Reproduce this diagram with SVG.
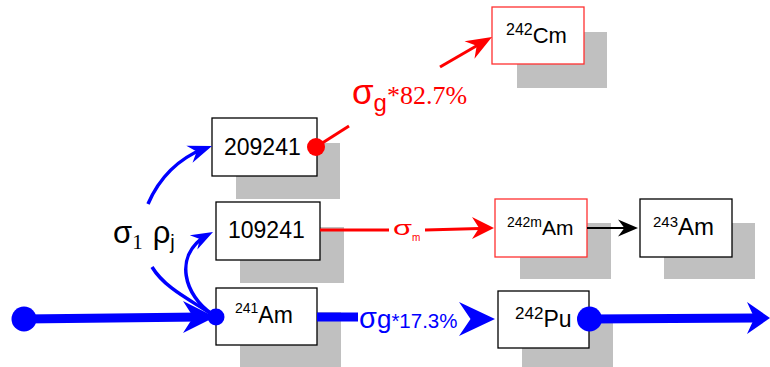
<svg xmlns="http://www.w3.org/2000/svg" xmlns:xlink="http://www.w3.org/1999/xlink" width="770" height="367" viewBox="0 0 770 367">
<style>
.sh{fill:#c0c0c0}
.bx{fill:#fff;stroke:#000;stroke-width:1.3}
.bxr{fill:#fff;stroke:#ff3030;stroke-width:1.3}
.lb{font-family:"Liberation Sans",Arial,sans-serif;fill:#000}
.blu{fill:#0000ff}
.red{fill:#ff0000}
.bl{stroke:#0000ff;fill:none}
.rl{stroke:#ff0000;fill:none;stroke-width:3}
</style>
<defs>
<path id="ah" d="M0,0 L-1,-0.5 L-0.68,0 L-1,0.5 Z"/>
</defs>
<rect width="770" height="367" fill="#fff"/>
<g id="n209241">
<rect class="sh" x="236" y="143" width="104" height="56"/>
<rect class="bx" x="212" y="118" width="105" height="58"/>
<text class="lb" x="224" y="155" font-size="23">209241</text>
</g>
<g id="n109241">
<rect class="sh" x="240" y="227" width="104" height="56"/>
<rect class="bx" x="216" y="202" width="104" height="58"/>
<text class="lb" x="228" y="238" font-size="23">109241</text>
</g>
<g id="n241Am">
<rect class="sh" x="240" y="312" width="101" height="56"/>
<rect class="bx" x="216" y="288" width="101" height="57"/>
<text class="lb" x="235" y="323" font-size="23"><tspan font-size="14" dy="-10">241</tspan><tspan dy="10">Am</tspan></text>
</g>
<g id="n242Cm">
<rect class="sh" x="517" y="32" width="90" height="56"/>
<rect class="bxr" x="492" y="7" width="92" height="57"/>
<text class="lb" x="506" y="43" font-size="22"><tspan font-size="16" dy="-8">242</tspan><tspan dy="8">Cm</tspan></text>
</g>
<g id="n242mAm">
<rect class="sh" x="520" y="223" width="91" height="56"/>
<rect class="bxr" x="495" y="199" width="92" height="58"/>
<text class="lb" x="507" y="235" font-size="21"><tspan font-size="14" dy="-8">242m</tspan><tspan dy="8">Am</tspan></text>
</g>
<g id="n243Am">
<rect class="sh" x="664" y="223" width="91" height="56"/>
<rect class="bx" x="640" y="199" width="92" height="58"/>
<text class="lb" x="653" y="235" font-size="24"><tspan font-size="15" dy="-8">243</tspan><tspan dy="8">Am</tspan></text>
</g>
<g id="n242Pu">
<rect class="sh" x="522" y="315" width="91" height="56"/>
<rect class="bx" x="498" y="291" width="91" height="57"/>
<text class="lb" x="515" y="327" font-size="23"><tspan font-size="17" dy="-8">242</tspan><tspan dy="8">Pu</tspan></text>
</g>
<g id="connectors">
<path class="bl" stroke-width="9" d="M24 319 L200 317"/>
<circle class="blu" cx="24" cy="319" r="12.5"/>
<use xlink:href="#ah" class="blu" transform="translate(215,317) scale(32,32)"/>
<circle class="blu" cx="216" cy="317" r="8.5"/>
<path class="bl" stroke-width="9" d="M317 317 L358 317"/>
<use xlink:href="#ah" class="blu" transform="translate(495,319) scale(36,34)"/>
<path class="bl" stroke-width="9" d="M590 319 L755 318"/>
<circle class="blu" cx="589.5" cy="319" r="12.5"/>
<use xlink:href="#ah" class="blu" transform="translate(770,318) scale(23,32)"/>
<path class="bl" stroke-width="3.5" d="M214 316 C195 302 166 290 152 267"/>
<path class="bl" stroke-width="3.5" d="M148 204 C160 176 180 158 205 148"/>
<use xlink:href="#ah" class="blu" transform="translate(212,146) rotate(-20) scale(24,18)"/>
<path class="bl" stroke-width="3.5" d="M212 314 C185 296 172 256 207 235"/>
<use xlink:href="#ah" class="blu" transform="translate(213,232) rotate(-28) scale(22,16)"/>
<path class="rl" d="M320 230 L389 230"/>
<path class="rl" d="M425 230 L480 228.5"/>
<use xlink:href="#ah" class="red" transform="translate(494,228) scale(22,22)"/>
<path stroke="#000" stroke-width="2" d="M587 228 L625 228"/>
<use xlink:href="#ah" transform="translate(638,228) scale(20,17)"/>
<circle class="red" cx="316" cy="147" r="9"/>
<path class="rl" d="M316 147 L349 126"/>
<path class="rl" d="M440 67 L478 45"/>
<use xlink:href="#ah" class="red" transform="translate(492,37) rotate(-30) scale(26,20)"/>
<text x="113" y="243" font-family="Liberation Sans,sans-serif" font-size="31" fill="#000">σ<tspan font-family="Liberation Serif,serif" font-size="21" dy="6">1</tspan><tspan dx="10" dy="-6">ρ</tspan><tspan font-size="20" dy="6">j</tspan></text>
<text x="352" y="104" font-family="Liberation Sans,sans-serif" font-size="35" fill="#ff0000">σ<tspan font-size="24" dy="7">g</tspan><tspan font-family="Liberation Serif,serif" font-size="26" dy="-7">*82.7%</tspan></text>
<text x="359" y="328" font-family="Liberation Sans,sans-serif" font-size="29" fill="#0000ff">σ<tspan font-size="26">g</tspan><tspan font-size="20.5">*17.3%</tspan></text>
<text x="393" y="235" font-family="Liberation Sans,sans-serif" font-size="21" fill="#ff0000"><tspan textLength="19" lengthAdjust="spacingAndGlyphs">σ</tspan><tspan font-size="10" dy="6">m</tspan></text>
</g>
</svg>
